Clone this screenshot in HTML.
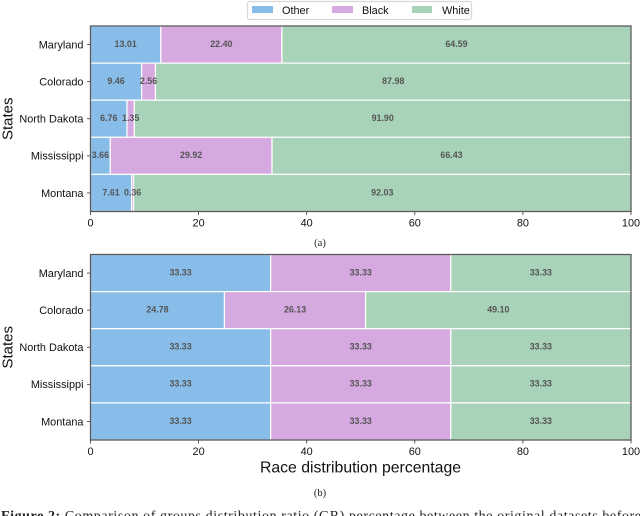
<!DOCTYPE html>
<html>
<head>
<meta charset="utf-8">
<style>
html,body{margin:0;padding:0;background:#fff;width:640px;height:516px;overflow:hidden}
svg{display:block;font-family:"Liberation Sans",sans-serif}
</style>
</head>
<body>
<svg id="fig" width="640" height="516" viewBox="0 0 640 516" xmlns="http://www.w3.org/2000/svg">
  <g>
    <rect x="247.5" y="1.5" width="224" height="18" rx="2" fill="#fff" stroke="#d8d8d8" stroke-width="1.2"/>
    <rect x="252" y="6" width="21" height="7" fill="#88bce9"/>
    <text x="282" y="14" font-size="10.9" fill="#111">Other</text>
    <rect x="332" y="6" width="21" height="7" fill="#d6a9e1"/>
    <text x="362" y="14" font-size="10.9" fill="#111">Black</text>
    <rect x="412" y="6" width="20" height="7" fill="#a8d3b8"/>
    <text x="442" y="14" font-size="10.9" fill="#111">White</text>
  </g>
  <text x="320" y="246" font-size="10.5" text-anchor="middle" font-family="'Liberation Serif',serif" fill="#222">(a)</text>
  <text x="320" y="496" font-size="10.5" text-anchor="middle" font-family="'Liberation Serif',serif" fill="#222">(b)</text>
  <text x="360.5" y="472.5" font-size="15.8" text-anchor="middle" fill="#111">Race distribution percentage</text>
  <text x="1" y="520" font-size="14" textLength="640" lengthAdjust="spacing" font-family="'Liberation Serif',serif" fill="#222"><tspan font-weight="bold">Figure 2:</tspan> Comparison of groups distribution ratio (GR) percentage between the original datasets before</text>
</svg>
<script>
var states = ["Maryland", "Colorado", "North Dakota", "Mississippi", "Montana"];
var seriesNames = ["Other", "Black", "White"];
var seriesColors = ["#88bce9", "#d6a9e1", "#a8d3b8"];
var otherA = [13.01, 9.46, 6.76, 3.66, 7.61];
var blackA = [22.40, 2.56, 1.35, 29.92, 0.36];
var whiteA = [64.59, 87.98, 91.90, 66.43, 92.03];
var otherB = [33.33, 24.78, 33.33, 33.33, 33.33];
var blackB = [33.33, 26.13, 33.33, 33.33, 33.33];
var whiteB = [33.33, 49.10, 33.33, 33.33, 33.33];
var xTicks = [0, 20, 40, 60, 80, 100];

var NS = "http://www.w3.org/2000/svg";
var svg = document.getElementById("fig");
var X0 = 90.5, X1 = 631;
function xScale(v) { return X0 + (v / 100) * (X1 - X0); }

function make(tag, attrs, parent) {
  var el = document.createElementNS(NS, tag);
  for (var k in attrs) { el.setAttribute(k, attrs[k]); }
  parent.appendChild(el);
  return el;
}

function drawChart(id, top, bottom, series) {
  var g = make("g", {}, svg);
  
  
  var band = (bottom - top) / states.length;
  function yScale(i) { return top + band * i; }

  states.forEach(function (state, i) {
    var acc = 0;
    series.forEach(function (vals, s) {
      var v = vals[i];
      var xa = xScale(acc), xb = xScale(acc + v);
      var r = make("rect", { x: xa, y: yScale(i), width: Math.max(0, xb - xa), height: band, fill: seriesColors[s], stroke: "#fff", "stroke-width": 1.2 }, g);
      
      
      acc += v;
    });
    var acc2 = 0;
    series.forEach(function (vals, s) {
      var v = vals[i];
      var t = make("text", { x: xScale(acc2 + v / 2), y: yScale(i) + band / 2 + 2.3, "font-size": 8.9, "font-weight": "bold", fill: "#555", "text-anchor": "middle" }, g);
      t.textContent = v.toFixed(2);
      
      
      acc2 += v;
    });
    var yc = yScale(i) + band / 2;
    var tk = make("line", { x1: X0 - 3.5, x2: X0, y1: yc, y2: yc, stroke: "#333", "stroke-width": 0.8 }, g);
    
    
    var lb = make("text", { x: 83.5, y: yc + 3.8, "font-size": 10.9, fill: "#111", "text-anchor": "end" }, g);
    lb.textContent = state;
    
    
  });

  var frame = make("rect", { x: X0, y: top, width: X1 - X0, height: bottom - top, fill: "none", stroke: "#5a5a5a", "stroke-width": 1.3 }, g);
  
  

  xTicks.forEach(function (tv) {
    var x = xScale(tv);
    var tk = make("line", { x1: x, x2: x, y1: bottom, y2: bottom + 3.5, stroke: "#333", "stroke-width": 0.8 }, g);
    
    
    var lb = make("text", { x: x, y: bottom + 15, "font-size": 10.9, fill: "#111", "text-anchor": "middle" }, g);
    lb.textContent = String(tv);
    
    
  });

  var cy = (top + bottom) / 2;
  var yt = make("text", { x: 0, y: 0, transform: "translate(12.5," + cy + ") rotate(-90)", "font-size": 15, fill: "#111", "text-anchor": "middle" }, g);
  yt.textContent = "States";
  
  
}

drawChart("chart-a", 26, 211.5, [otherA, blackA, whiteA]);
drawChart("chart-b", 254.5, 440, [otherB, blackB, whiteB]);
</script>
</body>
</html>
